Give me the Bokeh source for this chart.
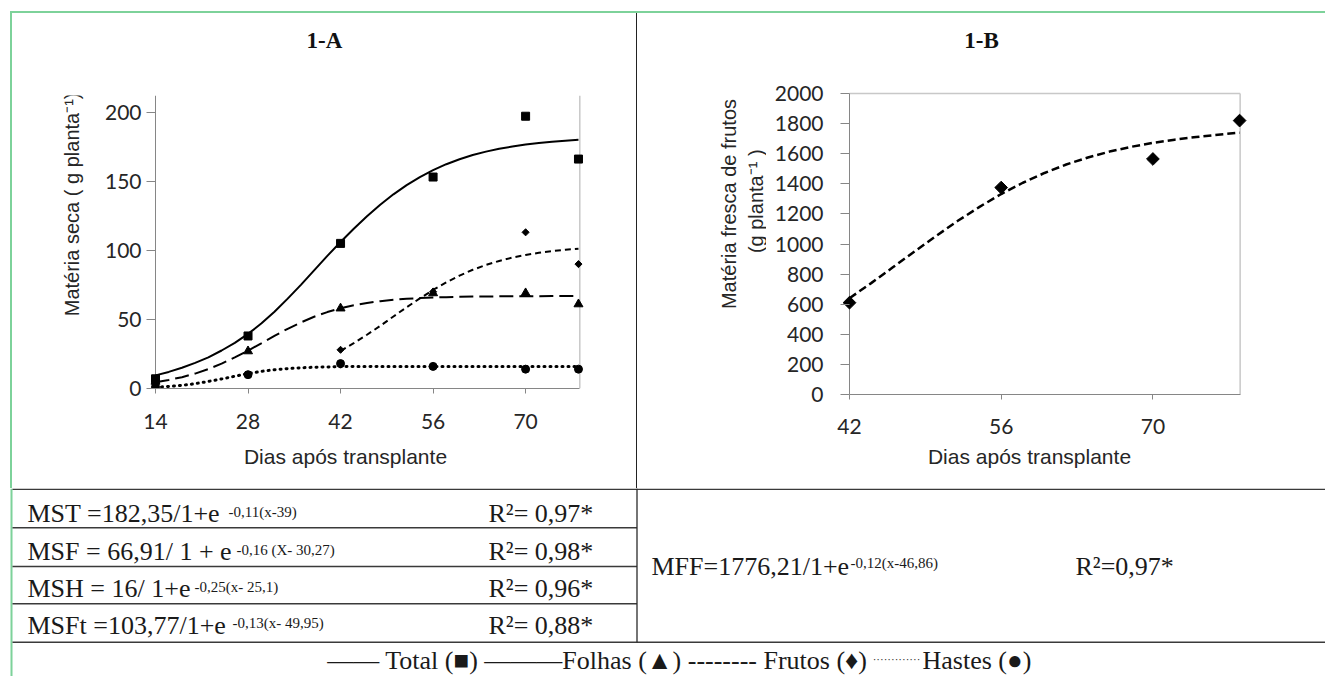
import math
from bokeh.plotting import figure
from bokeh.models import Range1d, FixedTicker, Span, Div
from bokeh.layouts import row, column
from bokeh.embed import file_html
from bokeh.resources import INLINE
from bokeh.core.properties import value

# ---------------- data: chart 1-A (dry matter) ----------------
days = [14, 28, 42, 56, 70, 78]
total = [7, 38, 105, 153, 197, 166]
folhas = [5, 27, 58, 69, 69, 61]
frutos_days = [42, 56, 70, 78]
frutos = [28, 70, 113, 90]
hastes = [1, 10, 18, 16, 14, 14]

curve_days = list(range(14, 80, 2))
total_fit = [9.5, 12, 15, 18.5, 22.5, 27.5, 33, 39.5, 47, 55.5, 65, 75, 85.5, 96, 106,
             115.6, 124.6, 133, 140.5, 147.1, 153, 158, 162.3, 165.9, 168.9, 171.4,
             173.5, 175.1, 176.5, 177.6, 178.6, 179.3, 179.9]
folhas_fit = [4.6, 6.2, 8.2, 10.8, 14.1, 18.0, 22.5, 27.4, 32.7, 38.1, 43.2, 47.8, 51.9,
              55.3, 58.0, 60.2, 61.9, 63.2, 64.2, 64.9, 65.4, 65.8, 66.1, 66.3, 66.5,
              66.6, 66.7, 66.8, 66.8, 66.8, 66.9, 66.9, 66.9]
hastes_fit = [0.9, 1.5, 2.3, 3.5, 5.1, 6.9, 8.9, 10.8, 12.4, 13.6, 14.4, 15.0, 15.4, 15.6,
              15.8, 15.9, 15.9, 16.0, 16.0, 16.0, 16.0, 16.0, 16.0, 16.0, 16.0, 16.0,
              16.0, 16.0, 16.0, 16.0, 16.0, 16.0, 16.0]
frutos_fit_days = list(range(42, 80, 2))
frutos_fit = [27.2, 32.8, 38.9, 45.3, 52.1, 58.8, 65.2, 71.3, 76.8, 81.7, 85.9, 89.4,
              92.3, 94.7, 96.6, 98.2, 99.4, 100.4, 101.1]
ticks_a_x = [14, 28, 42, 56, 70]
ticks_a_y = [0, 50, 100, 150, 200]

# ---------------- data: chart 1-B (fresh fruit mass) ----------------
mff_days = [42, 56, 70, 78]
mff = [610, 1375, 1565, 1820]
mff_fit_days = list(range(42, 80, 2))
mff_fit = [640, 740, 845, 950, 1054, 1154, 1247, 1332, 1407, 1472, 1528, 1575, 1614,
           1646, 1672, 1693, 1711, 1726, 1740]
ticks_b_x = [42, 56, 70]
ticks_b_y = list(range(0, 2001, 200))

# ---------------- texts ----------------
title_a = "1-A"
title_b = "1-B"
xtitle = "Dias após transplante"
ytitle_a = "Matéria seca ( g planta⁻¹)"
ytitle_b = ["Matéria fresca de  frutos", "(g planta⁻¹ )"]
eq_main = ["MST =182,35/1+e", "MSF = 66,91/ 1 + e", "MSH = 16/ 1+e", "MSFt =103,77/1+e"]
eq_sup = ["-0,11(x-39)", "-0,16 (X- 30,27)", "-0,25(x- 25,1)", "-0,13(x- 49,95)"]
eq_r2 = ["R²= 0,97*", "R²= 0,98*", "R²= 0,96*", "R²= 0,88*"]
mff_main = "MFF=1776,21/1+e"
mff_sup = "-0,12(x-46,86)"
mff_r2 = "R²=0,97*"
legend_main = "—— Total (■) ———Folhas (▲) -------- Frutos (♦)"
legend_dots = "·············"
legend_last = "Hastes (●)"

GREEN = "#7dd29a"
AXIS = "#868686"
FRAME = "#c8c8c8"
TXT = "#262626"
INK = "#1a1a1a"
TICK_FONT = "Lato"
TITLE_FONT = "Liberation Sans"
SERIF = "Liberation Serif"


def bar(w, h, color):
    return Div(text="", width=w, height=h, margin=0,
               styles={"background-color": color})


def base_fig(width, height, xr, yr, ml, mr, mt, mb, axes=True):
    kw = {} if axes else {"x_axis_type": None, "y_axis_type": None}
    p = figure(width=width, height=height, x_range=xr, y_range=yr,
               output_backend="svg", toolbar_location=None, tools="",
               min_border_left=ml, min_border_right=mr,
               min_border_top=mt, min_border_bottom=mb, **kw)
    p.xgrid.visible = False
    p.ygrid.visible = False
    p.outline_line_color = None
    p.background_fill_color = "white"
    p.border_fill_color = "white"
    return p


def strip(w, h, flip=True):
    yr = Range1d(h, 0) if flip else Range1d(0, h)
    return base_fig(w, h, Range1d(0, w), yr, 0, 0, 0, 0, axes=False)


def style_axis(ax, ticks, bounds, tick_in, tick_out, standoff, line=True):
    ax.ticker = FixedTicker(ticks=ticks)
    ax.bounds = bounds
    ax.axis_line_color = AXIS if line else None
    ax.axis_line_width = 1
    ax.major_tick_line_color = AXIS
    ax.major_tick_out = tick_out
    ax.major_tick_in = tick_in
    ax.minor_tick_line_color = None
    ax.major_label_text_font = TICK_FONT
    ax.major_label_text_font_size = "21px"
    ax.major_label_text_color = TXT
    ax.major_label_standoff = standoff
    ax.axis_label = None


def title_strip(width, height, text):
    t = strip(width, height)
    t.text(x=[width / 2], y=[27], text=[text], text_font=value(SERIF),
           text_font_style="bold", text_font_size="23px", text_align="center",
           text_baseline="middle", text_color="#111111")
    return t


def xtitle_strip(width, height, cx, cy):
    t = strip(width, height)
    t.text(x=[cx], y=[cy], text=[xtitle], text_font=value(TITLE_FONT),
           text_font_size="21px", text_align="center", text_baseline="middle",
           text_color=TXT)
    return t


# ---------------- chart A (cell x 12..636, y 13..488) ----------------
# frame starts 6 px left of day 14 so the first markers are not clipped
XA_LEFT, XA_RIGHT = 14, 78.2
pA = base_fig(544, 366, Range1d(13.092, 79.97), Range1d(0, 212), 57, 45, 25, 48)
style_axis(pA.xaxis[0], ticks_a_x, (XA_LEFT, XA_RIGHT), 0, 5, 20)
style_axis(pA.yaxis[0], ticks_a_y, (0, 212), 6, 3, 5, line=False)
pA.add_layout(Span(location=XA_LEFT, dimension="height", line_color=AXIS, line_width=1,
                   level="underlay"))
pA.add_layout(Span(location=XA_RIGHT, dimension="height", line_color=FRAME, line_width=1.5,
                   level="underlay"))

pA.line(curve_days, total_fit, line_color="black", line_width=2)
pA.line(curve_days, folhas_fit, line_color="black", line_width=2, line_dash="14 6")
pA.line(frutos_fit_days, frutos_fit, line_color="black", line_width=2, line_dash="6 4")
pA.line(curve_days, hastes_fit, line_color="black", line_width=3, line_dash="1 5",
        line_cap="round")
pA.scatter(frutos_days, frutos, marker="square", angle=math.pi / 4, size=5, color="black")
pA.scatter(days, total, marker="square", size=8, color="black")
pA.scatter(days, folhas, marker="triangle", size=9, color="black")
pA.scatter(days, hastes, marker="circle", size=8, color="black")

yA = strip(80, 366, flip=False)
yA.text(x=[59], y=[230], text=[ytitle_a], angle=math.pi / 2, text_font=value(TITLE_FONT),
        text_font_size="20px", text_align="center", text_baseline="middle", text_color=TXT)

cellA = column(title_strip(624, 57, title_a), row(yA, pA, spacing=0),
               xtitle_strip(624, 52, 333, 20), spacing=0)

# ---------------- chart B (cell x 637..1325, y 13..488) ----------------
XB_LEFT, XB_RIGHT = 42, 78.05
pB = base_fig(559, 370, Range1d(41.354, 79.56), Range1d(0, 2013.3), 76, 69, 21, 46)
style_axis(pB.xaxis[0], ticks_b_x, (XB_LEFT, XB_RIGHT), 0, 5, 19)
style_axis(pB.yaxis[0], ticks_b_y, (0, 2000), 7, 2, 17, line=False)
pB.segment(x0=[XB_LEFT, XB_RIGHT, XB_LEFT], y0=[2000, 0, 0],
           x1=[XB_RIGHT, XB_RIGHT, XB_LEFT], y1=[2000, 2000, 2000],
           line_color=[FRAME, FRAME, AXIS], line_width=[1.5, 1.5, 1], level="underlay")
pB.line(mff_fit_days, mff_fit, line_color="black", line_width=2.5, line_dash="8 4")
pB.scatter(mff_days, mff, marker="square", angle=math.pi / 4, size=9, color="black")

yB = strip(129, 370, flip=False)
yB.text(x=[91, 118], y=[236, 236], text=ytitle_b, angle=math.pi / 2,
        text_font=value(TITLE_FONT), text_font_size="20px", text_align="center",
        text_baseline="middle", text_color=TXT)

cellB = column(title_strip(688, 57, title_b), row(yB, pB, spacing=0),
               xtitle_strip(688, 48, 392, 16), spacing=0)

# ---------------- table + legend (y 488..676) ----------------
pT = strip(1325, 188)
pT.segment(x0=[11], y0=[0], x1=[11], y1=[188], line_color=GREEN, line_width=2)
pT.segment(x0=[12, 12, 12, 12, 12], y0=[0.8, 39.3, 78, 115.3, 153.8],
           x1=[1325, 636.5, 636.5, 636.5, 1325], y1=[0.8, 39.3, 78, 115.3, 153.8],
           line_color="#3a3a3a", line_width=1.5)
pT.segment(x0=[636.5], y0=[0], x1=[636.5], y1=[153.8], line_color="#2a2a2a", line_width=1.3)

row_mid = [25, 63, 100, 136.5]
sup_x = [228, 236, 194, 232]
SIZE = "26px"
SUP = "15px"
common = dict(text_font=value(SERIF), text_baseline="middle", text_color=INK)
pT.text(x=[27] * 4, y=row_mid, text=eq_main, text_font_size=SIZE, text_align="left", **common)
pT.text(x=sup_x, y=[m - 2 for m in row_mid], text=eq_sup, text_font_size=SUP,
        text_align="left", **common)
pT.text(x=[488] * 4, y=row_mid, text=eq_r2, text_font_size=SIZE, text_align="left", **common)
pT.text(x=[651], y=[78], text=[mff_main], text_font_size=SIZE, text_align="left", **common)
pT.text(x=[850], y=[74], text=[mff_sup], text_font_size=SUP, text_align="left", **common)
pT.text(x=[1075], y=[78], text=[mff_r2], text_font_size=SIZE, text_align="left", **common)
# legend line
pT.text(x=[867], y=[172], text=[legend_main], text_font_size=SIZE, text_align="right", **common)
pT.text(x=[896], y=[170], text=[legend_dots], text_font_size="11px", text_align="center",
        **common)
pT.text(x=[922], y=[172], text=[legend_last], text_font_size=SIZE, text_align="left", **common)

layout = column(
    bar(1325, 11, "white"),
    row(bar(10, 2, "white"), bar(1315, 2, GREEN), spacing=0),
    row(bar(10, 475, "white"), bar(2, 475, GREEN), cellA,
        bar(1, 475, "#222222"), cellB, spacing=0),
    pT,
    spacing=0,
)

open("out.html", "w").write(file_html(layout, INLINE))
